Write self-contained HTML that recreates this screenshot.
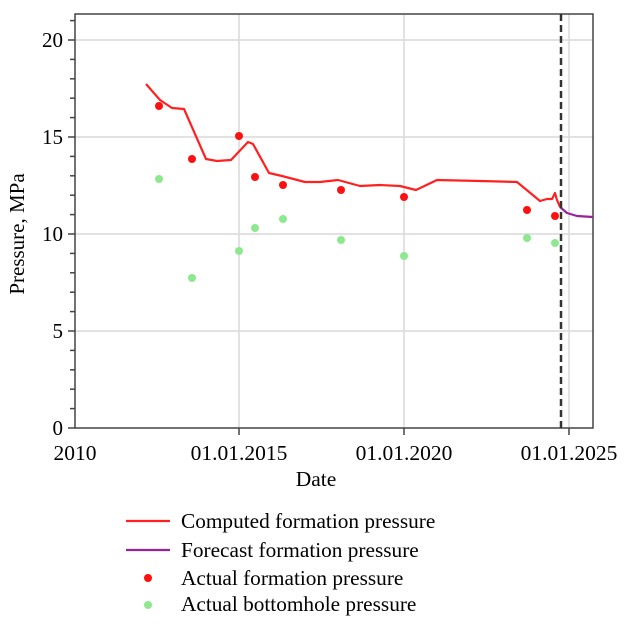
<!DOCTYPE html>
<html><head><meta charset="utf-8"><style>
body{margin:0;background:#fff;}
svg text{font-family:"Liberation Serif",serif;fill:#000;}
</style></head><body>
<svg width="626" height="619" viewBox="0 0 626 619" xmlns="http://www.w3.org/2000/svg">
<g stroke="#d9d9d9" stroke-width="1.5">
<line x1="75" y1="40" x2="593" y2="40"/><line x1="75" y1="137" x2="593" y2="137"/>
<line x1="75" y1="234" x2="593" y2="234"/><line x1="75" y1="331" x2="593" y2="331"/>
<line x1="239" y1="14" x2="239" y2="428"/><line x1="404" y1="14" x2="404" y2="428"/>
<line x1="569" y1="14" x2="569" y2="428"/>
</g>
<rect x="75" y="14" width="518" height="414" fill="none" stroke="#444" stroke-width="1.5"/>
<g stroke="#444" stroke-width="1.5">
<line x1="68" y1="40" x2="75" y2="40"/><line x1="68" y1="137" x2="75" y2="137"/><line x1="68" y1="234" x2="75" y2="234"/><line x1="68" y1="331" x2="75" y2="331"/><line x1="68" y1="428" x2="75" y2="428"/>
<line x1="70" y1="20.6" x2="75" y2="20.6"/>
<line x1="70" y1="59.4" x2="75" y2="59.4"/><line x1="70" y1="78.8" x2="75" y2="78.8"/><line x1="70" y1="98.2" x2="75" y2="98.2"/><line x1="70" y1="117.6" x2="75" y2="117.6"/>
<line x1="70" y1="156.4" x2="75" y2="156.4"/><line x1="70" y1="175.8" x2="75" y2="175.8"/><line x1="70" y1="195.2" x2="75" y2="195.2"/><line x1="70" y1="214.6" x2="75" y2="214.6"/>
<line x1="70" y1="253.4" x2="75" y2="253.4"/><line x1="70" y1="272.8" x2="75" y2="272.8"/><line x1="70" y1="292.2" x2="75" y2="292.2"/><line x1="70" y1="311.6" x2="75" y2="311.6"/>
<line x1="70" y1="350.4" x2="75" y2="350.4"/><line x1="70" y1="369.8" x2="75" y2="369.8"/><line x1="70" y1="389.2" x2="75" y2="389.2"/><line x1="70" y1="408.6" x2="75" y2="408.6"/>
<line x1="239" y1="428" x2="239" y2="435"/><line x1="404" y1="428" x2="404" y2="435"/><line x1="569" y1="428" x2="569" y2="435"/>
</g>
<g font-size="21" text-anchor="end">
<text x="63" y="47">20</text><text x="63" y="144">15</text><text x="63" y="241">10</text><text x="63" y="338">5</text><text x="63" y="435">0</text>
</g>
<g font-size="21.5" text-anchor="middle">
<text x="75" y="460">2010</text><text x="239" y="460">01.01.2015</text><text x="404" y="460">01.01.2020</text><text x="569" y="460">01.01.2025</text>
<text x="316" y="486">Date</text>
</g>
<text font-size="21" text-anchor="middle" transform="translate(24,234) rotate(-90)">Pressure, MPa</text>
<polyline fill="none" stroke="#ff2020" stroke-width="2.2" stroke-linejoin="round" points="146,84 160,100 172,108 184,109 206,159 217,161 231,160 248,142 253,144 269,173 282,176 305,182 320,182 338,180 360,186 380,185 400,186 416,190 437,180 480,181 517,182 540,201 547,199 552,199 555,193 557,200 560,207"/>
<polyline fill="none" stroke="#992299" stroke-width="2.2" stroke-linejoin="round" points="560,207 567,213 577,216 593,217"/>
<line x1="561" y1="14" x2="561" y2="428" stroke="#333" stroke-width="2.5" stroke-dasharray="7,4"/>
<g fill="#ff1010">
<circle cx="159" cy="106" r="4"/><circle cx="192" cy="159" r="4"/><circle cx="239" cy="136" r="4"/><circle cx="255" cy="177" r="4"/><circle cx="283" cy="185" r="4"/><circle cx="341" cy="190" r="4"/><circle cx="404" cy="197" r="4"/><circle cx="527" cy="210" r="4"/><circle cx="555" cy="216" r="4"/>
</g>
<g fill="#8ee88e">
<circle cx="159" cy="179" r="4"/><circle cx="192" cy="278" r="4"/><circle cx="239" cy="251" r="4"/><circle cx="255" cy="228" r="4"/><circle cx="283" cy="219" r="4"/><circle cx="341" cy="240" r="4"/><circle cx="404" cy="256" r="4"/><circle cx="527" cy="238" r="4"/><circle cx="555" cy="243" r="4"/>
</g>
<line x1="126" y1="521" x2="170" y2="521" stroke="#ff2020" stroke-width="2.2"/>
<line x1="126" y1="550" x2="170" y2="550" stroke="#992299" stroke-width="2.2"/>
<circle cx="148" cy="578" r="4" fill="#ff1010"/>
<circle cx="148" cy="605" r="4" fill="#8ee88e"/>
<g font-size="21.3">
<text x="181" y="528">Computed formation pressure</text>
<text x="181" y="557">Forecast formation pressure</text>
<text x="181" y="585">Actual formation pressure</text>
<text x="181" y="611">Actual bottomhole pressure</text>
</g>
</svg>
</body></html>
